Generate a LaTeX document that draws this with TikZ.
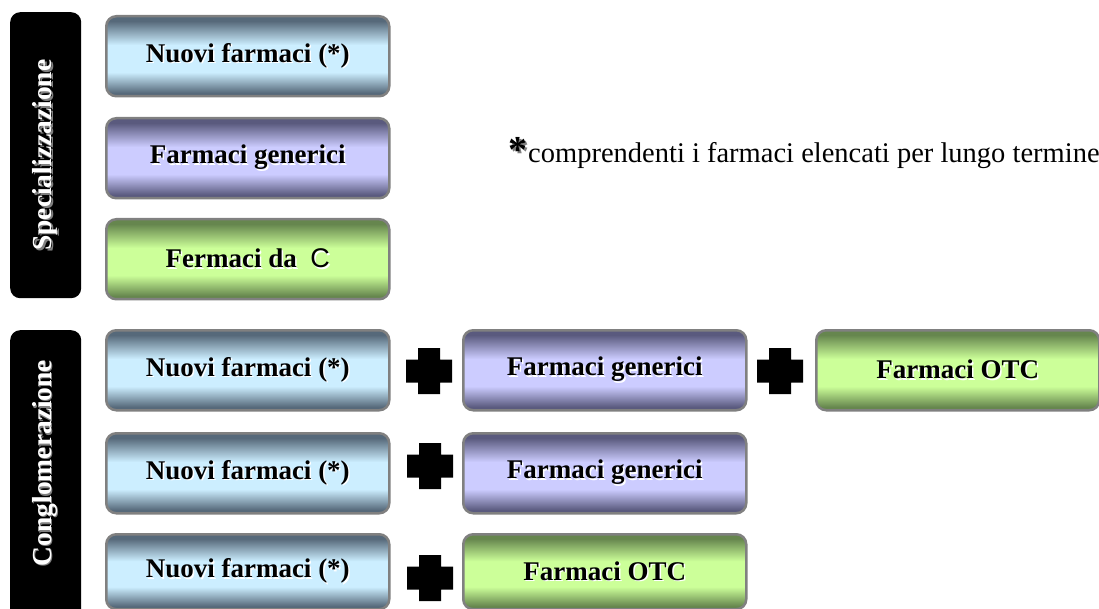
\documentclass[tikz,border=0pt]{standalone}
\usepackage{fontspec}
\setmainfont{Liberation Serif}
\newfontfamily\arialf{Liberation Sans}
\definecolor{bdark}{HTML}{56697A}
\definecolor{blight}{HTML}{CCEEFF}
\definecolor{pdark}{HTML}{5A5A7E}
\definecolor{plight}{HTML}{CCCCFF}
\definecolor{gdark}{HTML}{66864E}
\definecolor{glight}{HTML}{CCFF99}
\definecolor{boxborder}{HTML}{808080}
\pgfdeclareverticalshading{blueshade}{100bp}{color(0bp)=(bdark); color(27bp)=(bdark); color(40bp)=(blight); color(57bp)=(blight); color(72bp)=(bdark); color(100bp)=(bdark)}
\pgfdeclareverticalshading{purpleshade}{100bp}{color(0bp)=(pdark); color(27bp)=(pdark); color(40bp)=(plight); color(57bp)=(plight); color(72bp)=(pdark); color(100bp)=(pdark)}
\pgfdeclareverticalshading{greenshade}{100bp}{color(0bp)=(gdark); color(27bp)=(gdark); color(40bp)=(glight); color(57bp)=(glight); color(72bp)=(gdark); color(100bp)=(gdark)}
\newcommand\shadtxt[1]{\makebox[0pt][l]{\hspace{1.5pt}\raisebox{-1.5pt}{\color{white}#1}}#1}
\newcommand\sideshad[1]{\makebox[0pt][l]{\hspace{-1.5pt}\raisebox{-1.5pt}{\color{gray}#1}}{\color{white}#1}}
\tikzset{
  drugbox/.style={draw=boxborder, line width=2.5pt, rounded corners=10pt,
    minimum width=283pt, minimum height=80pt, inner sep=0pt, anchor=north west,
    font=\fontsize{27}{32}\selectfont\bfseries},
  bluebox/.style={drugbox, shading=blueshade},
  purplebox/.style={drugbox, shading=purpleshade},
  greenbox/.style={drugbox, shading=greenshade},
  sidebar/.style={fill=black, rounded corners=10pt, anchor=north west, inner sep=0pt, minimum width=71pt},
  sidetext/.style={rotate=90, inner sep=0pt, font=\fontsize{27.5}{32}\selectfont\bfseries},
  plusmark/.pic={\fill[black] (-11,-23) -- (11,-23) -- (11,-11.5) -- (23,-11.5) -- (23,11.5) -- (11,11.5) -- (11,23) -- (-11,23) -- (-11,11.5) -- (-23,11.5) -- (-23,-11.5) -- (-11,-11.5) -- cycle;}
}
\begin{document}
\begin{tikzpicture}[x=1pt,y=-1pt]
\useasboundingbox (0,0) rectangle (1099,609);
% side bars
\node[sidebar, minimum height=286pt] (specbar) at (10,12) {};
\node[sidetext] (spectxt) at (specbar.center) {\sideshad{Specializzazione}};
\node[sidebar, minimum height=290pt] (congbar) at (10,330) {};
\node[sidetext] (congtxt) at (45.5,463) {\sideshad{Conglomerazione}};
% Specializzazione
\node[bluebox] (s1) at (105,15) {\shadtxt{Nuovi farmaci (*)}};
\node[purplebox] (s2) at (105,117) {\shadtxt{Farmaci generici}};
\node[greenbox] (s3) at (105,218) {\shadtxt{Fermaci da\ \ {\arialf\mdseries C}}};
% note
\node[anchor=base west, inner sep=0pt, font=\fontsize{28.5}{34}\selectfont] (note) at (528,163) {comprendenti i farmaci elencati per lungo termine};
\node[anchor=base east, inner sep=0pt, font=\fontsize{38}{40}\selectfont\bfseries] (star) at (note.base west) {\makebox[0pt][l]{\hspace{1.5pt}\raisebox{-1.5pt}{\color{gray}*}}*};
% Conglomerazione
\node[bluebox] (c1) at (105,329) {\shadtxt{Nuovi farmaci (*)}};
\node[purplebox] (c1b) at (462,329) {\shadtxt{Farmaci generici}};
\node[greenbox] (c1c) at (815,329) {\shadtxt{Farmaci OTC}};
\node[bluebox] (c2) at (105,432) {\shadtxt{Nuovi farmaci (*)}};
\node[purplebox] (c2b) at (462,432) {\shadtxt{Farmaci generici}};
\node[bluebox, minimum height=75pt] (c3) at (105,533) {\shadtxt{Nuovi farmaci (*)}};
\node[greenbox, minimum height=75pt] (c3b) at (462,533) {\shadtxt{Farmaci OTC}};
% plus signs
\pic at (429,371) {plusmark};
\pic at (780,371) {plusmark};
\pic at (430,466) {plusmark};
\pic at (430,578) {plusmark};
\end{tikzpicture}
\end{document}
